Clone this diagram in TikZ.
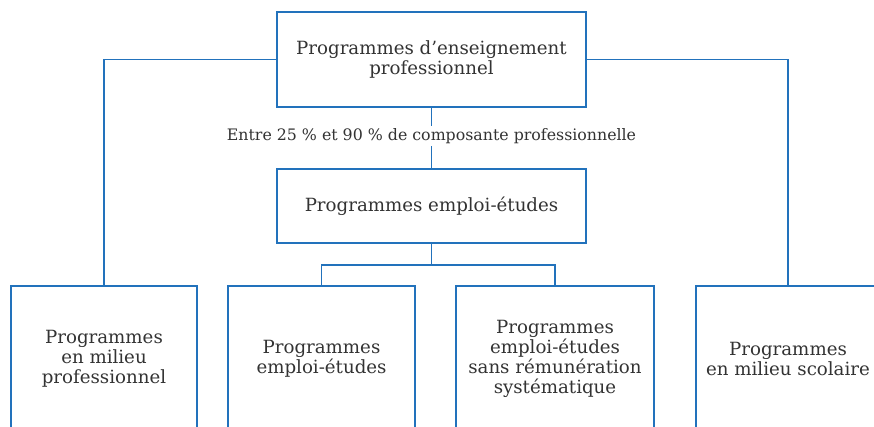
\documentclass[tikz,border=0pt]{standalone}
\usepackage{fontspec}
\setmainfont{DejaVu Serif}
\definecolor{lineblue}{HTML}{2272BC}
\definecolor{txt}{HTML}{333333}
\tikzset{
  box/.style={draw=lineblue, line width=1.4pt, align=center, text=txt, inner sep=0pt,
    font=\fontsize{18.2}{20}\selectfont},
  conn/.style={draw=lineblue, line width=1.4pt},
  lbl/.style={fill=white, text=txt, inner sep=2pt, font=\fontsize{15.8}{18}\selectfont}
}
\begin{document}
\begin{tikzpicture}[x=1pt,y=-1pt]
\useasboundingbox (0,0) rectangle (874,426);
\clip (0,0) rectangle (874,426);
\node[box, minimum width=309pt, minimum height=95pt] (top) at (431.5,59.5)
  {Programmes d’enseignement\\professionnel};
\node[box, minimum width=309pt, minimum height=74pt] (mid) at (431.5,206)
  {Programmes emploi-études};
\node[box, minimum width=186pt, minimum height=146pt] (b1) at (104,359)
  {Programmes\\en milieu\\professionnel};
\node[box, minimum width=187pt, minimum height=146pt] (b2) at (321.5,359)
  {Programmes\\emploi-études};
\node[box, minimum width=198pt, minimum height=146pt] (b3) at (555,359)
  {Programmes\\emploi-études\\sans rémunération\\systématique};
\node[box, minimum width=184pt, minimum height=146pt] (b4) at (788,359)
  {Programmes\\en milieu scolaire};
\coordinate (j) at (431.5,265);
\draw[conn] (top.west) -| (b1.north);
\draw[conn] (top.east) -| (b4.north);
\draw[conn] (top.south) -- (mid.north);
\node[lbl] (lab) at (431.5,136) {Entre 25 \% et 90 \% de composante professionnelle};
\draw[conn] (mid.south) -- (j);
\draw[conn] (b2.north) |- (j) -| (b3.north);
\end{tikzpicture}
\end{document}
